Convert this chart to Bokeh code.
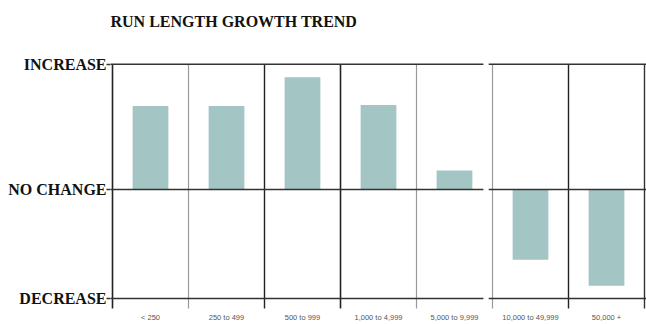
from bokeh.plotting import figure
from bokeh.models import Range1d, FixedTicker, ColumnDataSource
from bokeh.embed import file_html
from bokeh.resources import INLINE

# ---- data ----
title_text = "RUN LENGTH GROWTH TREND"
categories = ["< 250", "250 to 499", "500 to 999", "1,000 to 4,999",
              "5,000 to 9,999", "10,000 to 49,999", "50,000 +"]
growth = [0.667, 0.667, 0.897, 0.675, 0.151, -0.563, -0.770]
level_values = [1.0, 0.0, -0.873]
level_labels = ["INCREASE", "NO CHANGE", "DECREASE"]

n = len(categories)
centers = [i + 0.5 for i in range(n)]
px = 1 / 76.0  # one pixel in x data units
x0, x1 = -2 * px, n + 2 * px
y_top = 1.1905

p = figure(width=646, height=324, output_backend="svg", toolbar_location=None,
           x_range=Range1d(x0, x1), y_range=Range1d(-0.968, y_top),
           min_border_left=110, min_border_right=0, min_border_top=40,
           min_border_bottom=12, background_fill_color="white",
           border_fill_color="white")
p.outline_line_color = None
p.xgrid.visible = False
p.ygrid.visible = False

# title
p.title.text = title_text
p.title.text_font = "Liberation Serif"
p.title.text_font_style = "bold"
p.title.text_font_size = "16px"
p.title.text_color = "#111111"
p.title.align = "left"
p.title.standoff = 21

# bars
src = ColumnDataSource(dict(x=centers, top=growth, bottom=[0] * n))
p.vbar(x="x", top="top", bottom="bottom", width=0.47, source=src,
       fill_color="#a3c5c3", line_color=None)

# vertical separators
bounds = list(range(n + 1))
vcols = ["#222222", "#9a9a9a", "#222222", "#222222", "#9a9a9a", "#9a9a9a", "#222222", "#333333"]
vwid = [1.6, 1.2, 1.4, 1.6, 1.2, 1.2, 1.4, 1.4]
bottom_ext = level_values[-1] - 10 / 126.0
p.segment(x0=bounds, x1=bounds, y0=[level_values[0]] * len(bounds),
          y1=[bottom_ext] * len(bounds), line_color=vcols, line_width=vwid)

# horizontal level lines with small gap
gap_a, gap_b = 4.88, 4.95
p.segment(x0=[x0] * 3, x1=[gap_a] * 3, y0=level_values, y1=level_values,
          line_color="#333333", line_width=1.5)
p.segment(x0=[gap_b] * 3, x1=[x1] * 3, y0=level_values, y1=level_values,
          line_color="#333333", line_width=1.5)

# y axis
ya = p.yaxis[0]
ya.ticker = FixedTicker(ticks=level_values)
ya.major_label_overrides = {v: t for v, t in zip(level_values, level_labels)}
ya.axis_line_color = None
ya.minor_tick_line_color = None
ya.major_tick_in = 0
ya.major_tick_out = 4
ya.major_tick_line_color = "#333333"
ya.major_tick_line_width = 1.5
ya.major_label_standoff = 0
ya.major_label_text_font = "Liberation Serif"
ya.major_label_text_font_style = "bold"
ya.major_label_text_font_size = "16px"
ya.major_label_text_color = "#111111"

# x axis
xa = p.xaxis[0]
xa.ticker = FixedTicker(ticks=centers)
xa.major_label_overrides = {c: t for c, t in zip(centers, categories)}
xa.axis_line_color = None
xa.major_tick_line_color = None
xa.minor_tick_line_color = None
xa.major_tick_in = 0
xa.major_tick_out = 0
xa.major_label_standoff = 2
xa.major_label_text_font = "Liberation Sans"
xa.major_label_text_font_size = "7.5px"
xa.major_label_text_color = "#555555"

open("out.html", "w").write(file_html(p, INLINE))
